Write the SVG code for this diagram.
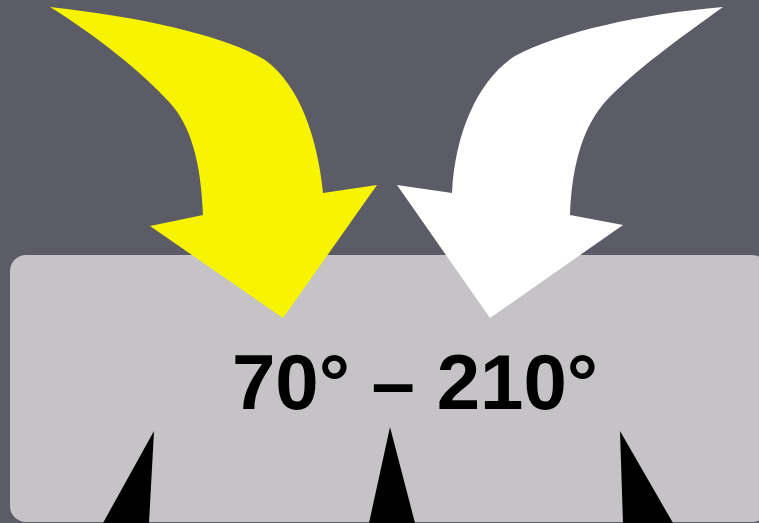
<svg xmlns="http://www.w3.org/2000/svg" width="759" height="523" viewBox="0 0 759 523">
<style>
.bg{fill:#5c5c67}
.box{fill:#c5c3c6}
.yel{fill:#f8f400}
.wht{fill:#ffffff}
.spike{fill:#000000}
.lbl{font-family:"Liberation Sans",Arial,sans-serif;font-weight:bold;font-size:78px;fill:#000000}
</style>
<rect class="bg" x="0" y="0" width="759" height="523"/>
<g id="panel">
<rect class="box" x="10" y="255" width="758" height="267" rx="16"/>
</g>
<g id="spikes">
<polygon class="spike" points="103,523 154,431 149,523"/>
<polygon class="spike" points="369,523 390,427 415,523"/>
<polygon class="spike" points="623,523 620,431 673,523"/>
</g>
<g id="label">
<text class="lbl" x="415" y="409" text-anchor="middle">70° – 210°</text>
</g>
<g id="connectors">
<path id="arrow-yellow" class="yel" d="M50,7 C150,18 230,38 265,60 C300,85 318,140 323,193 L377,185 L283,318 L150,226 L203,215 C201,160 190,125 170,103 C140,70 95,35 50,7 Z"/>
<path id="arrow-white" class="wht" d="M723,7 C640,14 560,32 515,56 C480,78 455,130 452,193 L397,185 L490,318 L623,225 L570,215 C572,160 585,125 605,102 C635,70 680,38 723,7 Z"/>
</g>
</svg>
